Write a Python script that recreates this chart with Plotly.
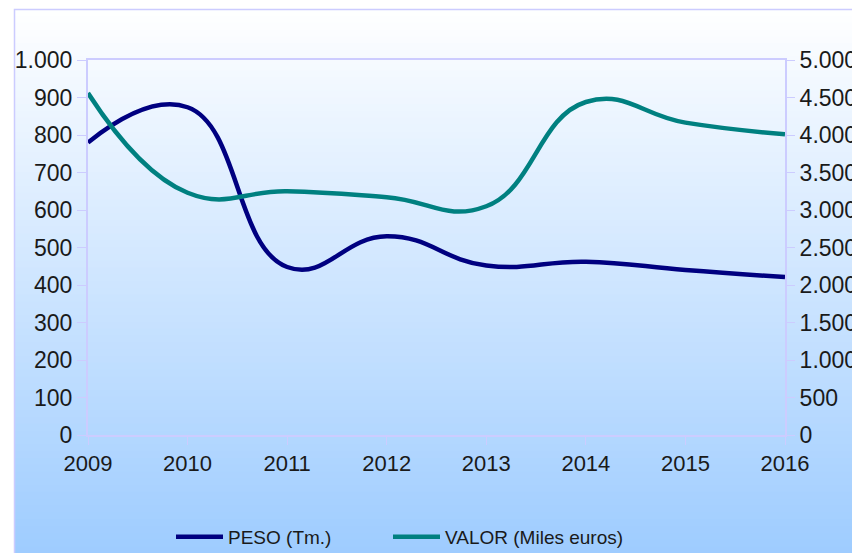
import plotly.graph_objects as go

years = [2009, 2010, 2011, 2012, 2013, 2014, 2015, 2016]
peso = [780, 874, 448, 530, 452, 462, 440, 421]
valor = [4560, 3230, 3250, 3170, 3050, 4440, 4165, 4010]

# page body has an 8px margin: figure px = screen px - 8
OFF = 8
W, H = 860 - OFF, 553 - OFF
# plot area in screen px: x 88..785, y 60..435
L = 88 - OFF
T = 60 - OFF
R = W - (785 - OFF)
B = H - (435 - OFF)
pw, ph = W - L - R, H - T - B

def sx(px):  # screen px -> paper x
    return (px - OFF - L) / pw

def sy(py):  # screen px -> paper y
    return (H - B - (py - OFF)) / ph

fig = go.Figure()
fig.add_trace(go.Scatter(x=years, y=peso, name="PESO (Tm.)", mode="lines", legend="legend",
                         line=dict(color="#000080", width=4.5, shape="spline", smoothing=1.3)))
fig.add_trace(go.Scatter(x=years, y=valor, name="VALOR (Miles euros)", mode="lines", yaxis="y2",
                         legend="legend2",
                         line=dict(color="#008080", width=4.5, shape="spline", smoothing=1.3)))

# gradient background as stacked strips
shapes = []
top_px, bot_px = 9, 553
n = 80
c0 = (255, 255, 255)
c1 = (158, 204, 255)
for i in range(n):
    f = (i + 0.5) / n
    col = tuple(round(c0[k] + (c1[k] - c0[k]) * f) for k in range(3))
    y0 = top_px + (bot_px - top_px) * i / n
    y1 = top_px + (bot_px - top_px) * (i + 1) / n + 0.8
    shapes.append(dict(type="rect", xref="paper", yref="paper", layer="below",
                       x0=sx(14), x1=sx(880), y0=sy(y0), y1=sy(y1),
                       fillcolor="rgb(%d,%d,%d)" % col, line=dict(width=0)))
shapes.append(dict(type="rect", xref="paper", yref="paper", layer="below",
                   x0=sx(14.5), x1=sx(900), y0=sy(9.5), y1=sy(620),
                   fillcolor="rgba(0,0,0,0)", line=dict(color="#CCCCFF", width=1.5)))

axis_col = "#CCCCFF"
leg_common = dict(orientation="h", xanchor="left", yanchor="middle",
                  font=dict(size=19), bgcolor="rgba(0,0,0,0)", itemwidth=47)
fig.update_layout(
    width=W, height=H,
    margin=dict(l=L, r=R, t=T, b=B, autoexpand=False),
    paper_bgcolor="white",
    plot_bgcolor="rgba(0,0,0,0)",
    separators=",.",
    font=dict(family="Liberation Sans, Arial, sans-serif", color="#1a1a1a"),
    shapes=shapes,
    showlegend=True,
    legend=dict(x=sx(176 - 5), y=sy(537), **leg_common),
    legend2=dict(x=sx(393 - 5), y=sy(537), **leg_common),
    xaxis=dict(range=[2009, 2016], tickvals=years, ticktext=[str(y) for y in years],
               showgrid=False, zeroline=False, showline=True, linecolor=axis_col, linewidth=2,
               mirror=True, ticks="outside", ticklen=8, tickcolor=axis_col, tickwidth=1,
               tickfont=dict(size=22)),
    yaxis=dict(range=[0, 1000], dtick=100, tickformat=",d", showgrid=False, zeroline=False,
               showline=True, linecolor=axis_col, linewidth=2, ticks="outside", ticklen=9,
               tickcolor=axis_col, tickwidth=1, tickfont=dict(size=23)),
    yaxis2=dict(range=[0, 5000], dtick=500, tickformat=",d", overlaying="y", side="right",
                showgrid=False, zeroline=False, showline=True, linecolor=axis_col, linewidth=2,
                ticks="outside", ticklen=8, tickcolor=axis_col, tickwidth=1, tickfont=dict(size=23)),
)

fig.write_html("out.html")
